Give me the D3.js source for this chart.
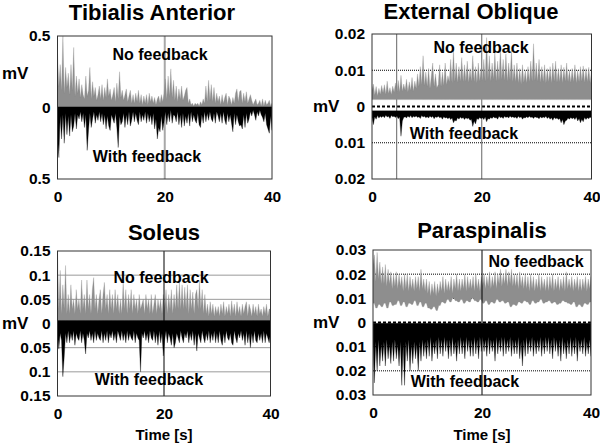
<!DOCTYPE html>
<html><head><meta charset="utf-8">
<script src="https://cdn.jsdelivr.net/npm/d3@7"></script>
<style>
body{margin:0;background:#fff}
svg{display:block}
text{font-family:"Liberation Sans",Arial,Helvetica,sans-serif;font-weight:bold;fill:#000}
</style>
</head><body>
<svg id="c" width="600" height="445"></svg>
<script>
// ---- data (mV), 160 samples over 0..40 s ----
const timeRange = [0, 40];
const timeTicks = [0, 20, 40];
const seriesNames = ["No feedback", "With feedback"];
const muscles = ["Tibialis Anterior", "External Oblique", "Soleus", "Paraspinalis"];

const taTicks = [0.5, 0, -0.5];
const eoTicks = [0.02, 0.01, 0, -0.01, -0.02];
const soTicks = [0.15, 0.1, 0.05, 0, -0.05, -0.1, -0.15];
const psTicks = [0.03, 0.02, 0.01, 0, -0.01, -0.02, -0.03];

const taNoFeedback = [
0.38,0.15,0.30,0.12,0.50,0.10,0.28,0.14, 0.24,0.09,0.30,0.12,0.42,0.08,0.22,0.10,
0.20,0.07,0.16,0.09,0.06,0.22,0.08,0.12, 0.28,0.06,0.18,0.08,0.14,0.05,0.09,0.15,
0.06,0.16,0.05,0.14,0.07,0.20,0.08,0.13, 0.05,0.09,0.14,0.04,0.17,0.06,0.25,0.07,
0.12,0.05,0.09,0.13,0.04,0.08,0.12,0.03, 0.09,0.03,0.10,0.04,0.12,0.03,0.09,0.02,
0.08,0.03,0.09,0.02,0.10,0.04,0.08,0.03, 0.07,0.02,0.06,0.08,0.03,0.09,0.04,0.10,
0.20,0.06,0.22,0.08,0.27,0.07,0.19,0.05, 0.15,0.04,0.13,0.06,0.15,0.05,0.08,0.12,
0.14,0.03,0.06,0.02,0.03,0.01,0.03,0.02, 0.03,0.01,0.04,0.02,0.06,0.03,0.15,0.04,
0.19,0.05,0.16,0.04,0.14,0.03,0.10,0.04, 0.08,0.02,0.09,0.03,0.07,0.10,0.02,0.08,
0.06,0.02,0.07,0.03,0.10,0.13,0.04,0.11, 0.12,0.03,0.10,0.04,0.11,0.03,0.06,0.09,
0.05,0.02,0.04,0.06,0.02,0.03,0.05,0.01, 0.06,0.01,0.05,0.02,0.03,0.05,0.01,0.03];
const taWithFeedback = [
-0.20,-0.35,-0.06,-0.22,-0.05,-0.25,-0.04,-0.19, -0.06,-0.20,-0.05,-0.17,-0.13,-0.04,-0.15,-0.05,
-0.08,-0.03,-0.10,-0.04,-0.14,-0.05,-0.30,-0.16, -0.04,-0.14,-0.08,-0.03,-0.11,-0.05,-0.09,-0.03,
-0.10,-0.04,-0.12,-0.05,-0.15,-0.06,-0.13,-0.16, -0.05,-0.08,-0.11,-0.04,-0.14,-0.28,-0.06,-0.12,
-0.10,-0.04,-0.14,-0.05,-0.12,-0.03,-0.13,-0.09, -0.03,-0.10,-0.04,-0.09,-0.12,-0.03,-0.10,-0.05,
-0.09,-0.03,-0.11,-0.04,-0.10,-0.05,-0.12,-0.04, -0.15,-0.08,-0.22,-0.14,-0.17,-0.06,-0.16,-0.10,
-0.03,-0.12,-0.04,-0.10,-0.02,-0.11,-0.05,-0.06, -0.10,-0.03,-0.12,-0.05,-0.14,-0.04,-0.13,-0.06,
-0.11,-0.04,-0.13,-0.03,-0.10,-0.05,-0.09,-0.11, -0.04,-0.12,-0.14,-0.05,-0.11,-0.03,-0.10,-0.04,
-0.09,-0.03,-0.08,-0.10,-0.04,-0.11,-0.03,-0.06, -0.10,-0.04,-0.11,-0.03,-0.09,-0.12,-0.04,-0.10,
-0.05,-0.11,-0.17,-0.04,-0.12,-0.05,-0.10,-0.13, -0.12,-0.15,-0.05,-0.14,-0.04,-0.11,-0.08,-0.03,
-0.06,-0.02,-0.05,-0.09,-0.03,-0.06,-0.02,-0.05, -0.07,-0.10,-0.04,-0.12,-0.15,-0.18,-0.06,-0.16];

const eoNoFeedback = [
0.0045,0.0062,0.0032,0.0055,0.0030,0.0050,0.0034,0.0058, 0.0038,0.0060,0.0034,0.0070,0.0036,0.0052,0.0033,0.0056,
0.0040,0.0065,0.0037,0.0072,0.0040,0.0086,0.0042,0.0062, 0.0045,0.0075,0.0040,0.0068,0.0045,0.0080,0.0042,0.0070,
0.0050,0.0090,0.0055,0.0110,0.0060,0.0140,0.0058,0.0095, 0.0055,0.0105,0.0050,0.0085,0.0120,0.0055,0.0090,0.0052,
0.0060,0.0115,0.0055,0.0095,0.0058,0.0120,0.0060,0.0085, 0.0068,0.0130,0.0065,0.0155,0.0070,0.0120,0.0066,0.0110,
0.0070,0.0135,0.0068,0.0115,0.0070,0.0125,0.0066,0.0105, 0.0070,0.0140,0.0068,0.0110,0.0065,0.0120,0.0070,0.0105,
0.0072,0.0130,0.0070,0.0190,0.0075,0.0140,0.0070,0.0120, 0.0075,0.0150,0.0070,0.0125,0.0072,0.0160,0.0075,0.0130,
0.0072,0.0145,0.0070,0.0120,0.0074,0.0155,0.0068,0.0115, 0.0068,0.0120,0.0065,0.0105,0.0062,0.0115,0.0066,0.0100,
0.0065,0.0110,0.0068,0.0125,0.0070,0.0173,0.0072,0.0120, 0.0070,0.0130,0.0066,0.0110,0.0068,0.0115,0.0065,0.0105,
0.0068,0.0110,0.0065,0.0120,0.0070,0.0125,0.0066,0.0105, 0.0068,0.0115,0.0065,0.0108,0.0070,0.0120,0.0068,0.0100,
0.0066,0.0105,0.0068,0.0115,0.0065,0.0100,0.0068,0.0110, 0.0070,0.0112,0.0066,0.0105,0.0068,0.0108,0.0065,0.0100];
const eoWithFeedback = [
-0.0030,-0.0050,-0.0028,-0.0035,-0.0025,-0.0032,-0.0027,-0.0030, -0.0026,-0.0031,-0.0024,-0.0029,-0.0027,-0.0033,-0.0025,-0.0028,
-0.0027,-0.0030,-0.0026,-0.0034,-0.0029,-0.0082,-0.0040,-0.0030, -0.0028,-0.0032,-0.0026,-0.0030,-0.0025,-0.0031,-0.0027,-0.0029,
-0.0026,-0.0030,-0.0028,-0.0033,-0.0025,-0.0029,-0.0027,-0.0031, -0.0028,-0.0032,-0.0026,-0.0030,-0.0027,-0.0034,-0.0028,-0.0030,
-0.0027,-0.0031,-0.0029,-0.0035,-0.0028,-0.0032,-0.0030,-0.0034, -0.0030,-0.0036,-0.0032,-0.0045,-0.0038,-0.0040,-0.0031,-0.0035,
-0.0029,-0.0033,-0.0030,-0.0036,-0.0031,-0.0034,-0.0032,-0.0038, -0.0035,-0.0055,-0.0040,-0.0048,-0.0033,-0.0036,-0.0030,-0.0034,
-0.0031,-0.0036,-0.0029,-0.0042,-0.0033,-0.0035,-0.0030,-0.0033, -0.0028,-0.0032,-0.0030,-0.0035,-0.0027,-0.0031,-0.0029,-0.0033,
-0.0027,-0.0030,-0.0028,-0.0032,-0.0026,-0.0030,-0.0028,-0.0031, -0.0029,-0.0033,-0.0027,-0.0031,-0.0028,-0.0035,-0.0030,-0.0032,
-0.0028,-0.0031,-0.0027,-0.0030,-0.0029,-0.0033,-0.0028,-0.0030, -0.0030,-0.0034,-0.0028,-0.0032,-0.0029,-0.0031,-0.0027,-0.0033,
-0.0029,-0.0035,-0.0031,-0.0038,-0.0030,-0.0034,-0.0032,-0.0036, -0.0033,-0.0045,-0.0036,-0.0050,-0.0040,-0.0038,-0.0032,-0.0035,
-0.0030,-0.0034,-0.0031,-0.0036,-0.0029,-0.0040,-0.0033,-0.0045, -0.0035,-0.0042,-0.0030,-0.0036,-0.0031,-0.0034,-0.0029,-0.0033];

const soNoFeedback = [
0.15,0.03,0.11,0.02,0.08,0.03,0.12,0.02, 0.06,0.02,0.08,0.03,0.05,0.02,0.07,0.03,
0.05,0.02,0.09,0.03,0.06,0.02,0.09,0.03, 0.06,0.02,0.07,0.095,0.03,0.06,0.02,0.05,
0.07,0.02,0.06,0.085,0.03,0.06,0.02,0.07, 0.03,0.06,0.02,0.07,0.03,0.06,0.02,0.05,
0.02,0.085,0.03,0.07,0.02,0.06,0.03,0.07, 0.02,0.06,0.03,0.05,0.02,0.06,0.03,0.04,
0.05,0.02,0.06,0.03,0.05,0.02,0.06,0.02, 0.04,0.06,0.02,0.05,0.03,0.05,0.02,0.06,
0.03,0.07,0.02,0.06,0.03,0.07,0.02,0.06, 0.03,0.08,0.03,0.085,0.03,0.08,0.03,0.075,
0.03,0.08,0.02,0.07,0.03,0.065,0.02,0.06, 0.07,0.03,0.088,0.03,0.07,0.02,0.06,0.02,
0.04,0.015,0.045,0.02,0.04,0.015,0.035,0.02, 0.035,0.015,0.04,0.02,0.045,0.015,0.035,0.02,
0.04,0.015,0.047,0.02,0.04,0.015,0.045,0.02, 0.035,0.015,0.04,0.02,0.035,0.045,0.015,0.04,
0.03,0.015,0.04,0.02,0.035,0.015,0.04,0.02, 0.03,0.015,0.035,0.02,0.04,0.015,0.03,0.03];
const soWithFeedback = [
-0.02,-0.053,-0.02,-0.035,-0.11,-0.07,-0.02,-0.04, -0.015,-0.04,-0.02,-0.035,-0.015,-0.045,-0.02,-0.03,
-0.035,-0.015,-0.04,-0.02,-0.035,-0.063,-0.02,-0.03, -0.015,-0.035,-0.02,-0.04,-0.015,-0.035,-0.02,-0.03,
-0.035,-0.015,-0.04,-0.02,-0.035,-0.015,-0.04,-0.02, -0.03,-0.015,-0.035,-0.02,-0.04,-0.015,-0.025,-0.035,
-0.015,-0.035,-0.02,-0.04,-0.015,-0.035,-0.02,-0.03, -0.035,-0.015,-0.04,-0.02,-0.03,-0.035,-0.1,-0.02,
-0.03,-0.015,-0.035,-0.02,-0.04,-0.015,-0.03,-0.035, -0.015,-0.04,-0.02,-0.045,-0.015,-0.04,-0.02,-0.067,
-0.035,-0.015,-0.04,-0.02,-0.03,-0.045,-0.02,-0.05, -0.04,-0.02,-0.03,-0.04,-0.015,-0.03,-0.04,-0.02,
-0.03,-0.015,-0.04,-0.02,-0.035,-0.015,-0.045,-0.02, -0.057,-0.02,-0.03,-0.04,-0.015,-0.03,-0.04,-0.02,
-0.035,-0.015,-0.04,-0.02,-0.035,-0.015,-0.04,-0.02, -0.04,-0.015,-0.035,-0.045,-0.02,-0.04,-0.015,-0.03,
-0.035,-0.02,-0.04,-0.045,-0.015,-0.03,-0.04,-0.02, -0.03,-0.015,-0.035,-0.02,-0.045,-0.015,-0.04,-0.02,
-0.05,-0.02,-0.04,-0.015,-0.035,-0.04,-0.02,-0.035, -0.02,-0.04,-0.015,-0.04,-0.02,-0.03,-0.04,-0.02];

const psNoFeedback = [
0.024,0.028,0.017,0.029,0.018,0.025,0.016,0.023, 0.016,0.024,0.015,0.022,0.016,0.021,0.014,0.020,
0.015,0.021,0.014,0.020,0.015,0.019,0.013,0.020, 0.014,0.020,0.013,0.019,0.014,0.018,0.013,0.019,
0.014,0.019,0.013,0.022,0.014,0.018,0.013,0.018, 0.012,0.017,0.011,0.016,0.012,0.017,0.011,0.016,
0.012,0.017,0.013,0.019,0.012,0.018,0.013,0.017, 0.013,0.019,0.012,0.018,0.014,0.020,0.013,0.018,
0.013,0.018,0.014,0.020,0.013,0.019,0.014,0.018, 0.014,0.019,0.013,0.020,0.014,0.018,0.013,0.019,
0.015,0.020,0.014,0.019,0.015,0.021,0.014,0.019, 0.015,0.021,0.014,0.020,0.016,0.022,0.015,0.020,
0.016,0.022,0.015,0.021,0.016,0.022,0.015,0.020, 0.015,0.020,0.014,0.021,0.015,0.019,0.014,0.020,
0.014,0.019,0.013,0.020,0.014,0.019,0.013,0.018, 0.014,0.020,0.013,0.019,0.014,0.018,0.013,0.019,
0.013,0.019,0.014,0.020,0.013,0.018,0.014,0.019, 0.013,0.018,0.014,0.019,0.013,0.021,0.014,0.018,
0.014,0.019,0.013,0.018,0.014,0.019,0.013,0.018, 0.013,0.018,0.014,0.019,0.013,0.018,0.014,0.019];
// lower edge of the "No feedback" band, one value per 0.5 s
const psNoFeedbackFloor = [
0.008,0.006,0.0075,0.0065,0.008,0.006,0.0085,0.007, 0.0075,0.009,0.007,0.0085,0.0065,0.008,0.0075,0.009,
0.007,0.0085,0.0065,0.008,0.006,0.0055,0.0065,0.005, 0.007,0.0085,0.008,0.0095,0.0085,0.01,0.009,0.0085,
0.0095,0.008,0.009,0.0085,0.01,0.009,0.0085,0.0095, 0.008,0.009,0.0075,0.0085,0.008,0.0095,0.0085,0.009,
0.008,0.0085,0.0065,0.0075,0.007,0.0085,0.008,0.009, 0.0085,0.0075,0.009,0.008,0.0085,0.0095,0.008,0.0085,
0.009,0.008,0.0085,0.0075,0.008,0.009,0.0085,0.008, 0.0075,0.0085,0.0065,0.0075,0.0065,0.008,0.0075,0.0085];
const psWithFeedback = [
-0.009,-0.025,-0.008,-0.020,-0.007,-0.018,-0.009,-0.016, -0.008,-0.018,-0.007,-0.015,-0.009,-0.017,-0.008,-0.016,
-0.007,-0.015,-0.009,-0.018,-0.008,-0.026,-0.009,-0.026, -0.008,-0.016,-0.007,-0.020,-0.009,-0.017,-0.008,-0.015,
-0.009,-0.020,-0.008,-0.016,-0.007,-0.014,-0.008,-0.015, -0.007,-0.014,-0.006,-0.016,-0.008,-0.013,-0.007,-0.015,
-0.006,-0.013,-0.007,-0.014,-0.006,-0.012,-0.007,-0.015, -0.007,-0.014,-0.006,-0.013,-0.008,-0.016,-0.007,-0.013,
-0.006,-0.013,-0.007,-0.015,-0.006,-0.012,-0.007,-0.014, -0.007,-0.014,-0.006,-0.013,-0.007,-0.015,-0.006,-0.012,
-0.006,-0.012,-0.007,-0.014,-0.006,-0.013,-0.007,-0.012, -0.007,-0.016,-0.006,-0.013,-0.007,-0.012,-0.006,-0.014,
-0.006,-0.013,-0.007,-0.012,-0.006,-0.014,-0.007,-0.013, -0.007,-0.013,-0.006,-0.015,-0.008,-0.018,-0.007,-0.014,
-0.006,-0.013,-0.007,-0.012,-0.006,-0.014,-0.007,-0.013, -0.007,-0.012,-0.006,-0.014,-0.007,-0.013,-0.006,-0.012,
-0.006,-0.013,-0.007,-0.015,-0.006,-0.012,-0.007,-0.014, -0.007,-0.016,-0.006,-0.013,-0.008,-0.015,-0.007,-0.013,
-0.006,-0.014,-0.007,-0.013,-0.006,-0.016,-0.007,-0.012, -0.007,-0.013,-0.006,-0.014,-0.008,-0.013,-0.007,-0.014];

// ---- layout ----
const panels = [
  {title: muscles[0], tx: 152, ty: 20, l: 57.5, r: 272, t: 36, b: 179, ymax: 0.5, ticks: taTicks,
   fmt: d3.format(".1f"), gray: taNoFeedback, grayFloor: 0, black: taWithFeedback, blackTop: 0,
   mv: [2, 73], nf: [160, 60], wf: [147, 161.5], timeLabel: false,
   vlines: [{v: 20, c: "#a8a8a8", w: 2, top: false}], hlines: [{v: 0, c: "#000", w: 1.3, dash: null}]},
  {title: muscles[1], tx: 471, ty: 19, l: 372, r: 591.5, t: 34, b: 179, ymax: 0.02, ticks: eoTicks,
   fmt: d3.format(".2f"), gray: eoNoFeedback, grayFloor: 0.0019, black: eoWithFeedback, blackTop: -0.0012,
   mv: [313, 106.5], nf: [481, 53], wf: [464, 139], timeLabel: false,
   vlines: [{v: 4.5, c: "#666", w: 1, top: false}, {v: 20, c: "#666", w: 1, top: false}],
   hlines: [{v: 0.01, c: "#000", w: 1, dash: "1,1"}, {v: -0.01, c: "#000", w: 1, dash: "1,1"}, {v: 0, c: "#000", w: 2, dash: "3,2"}]},
  {title: muscles[2], tx: 164, ty: 239.5, l: 57.5, r: 270.5, t: 251, b: 396, ymax: 0.15, ticks: soTicks,
   fmt: d => d3.format(".2~f")(d), gray: soNoFeedback, grayFloor: 0, black: soWithFeedback, blackTop: 0.006,
   mv: [2, 323.5], nf: [161, 283], wf: [149, 385], timeLabel: true,
   vlines: [{v: 20, c: "#000", w: 1, top: true}],
   hlines: [0.1, 0.05, -0.05, -0.1].map(v => ({v, c: "#9a9a9a", w: 1, dash: null}))},
  {title: muscles[3], tx: 482, ty: 238, l: 373, r: 591, t: 250, b: 395, ymax: 0.03, ticks: psTicks,
   fmt: d3.format(".2f"), gray: psNoFeedback, grayFloor: psNoFeedbackFloor, black: psWithFeedback, blackTop: -0.0003,
   mv: [313, 322.5], nf: [536, 267], wf: [465, 387], timeLabel: true,
   vlines: [{v: 20, c: "#000", w: 1, top: true}],
   hlines: [{v: 0.02, c: "#000", w: 1, dash: "1,1"}, {v: 0.01, c: "#000", w: 1, dash: "1,1"},
            {v: -0.01, c: "#000", w: 1, dash: "1,1"}, {v: -0.02, c: "#000", w: 1, dash: "1,1"},
            {v: 0, c: "#000", w: 2, dash: "3,2"}]}
];

const svg = d3.select("#c");
const GRAY = "#8e8e8e";

panels.forEach((p, pi) => {
  const x = d3.scaleLinear().domain(timeRange).range([p.l, p.r]);
  const y = d3.scaleLinear().domain([-p.ymax, p.ymax]).range([p.b, p.t]);
  const g = svg.append("g");
  const clipId = "clip" + pi;
  svg.append("clipPath").attr("id", clipId).append("rect")
     .attr("x", p.l).attr("y", p.t).attr("width", p.r - p.l).attr("height", p.b - p.t);

  // background grid
  const grid = g.append("g").attr("clip-path", `url(#${clipId})`);
  p.hlines.forEach(h => grid.append("line")
     .attr("x1", p.l).attr("x2", p.r).attr("y1", y(h.v)).attr("y2", y(h.v))
     .attr("stroke", h.c).attr("stroke-width", h.w).attr("stroke-dasharray", h.dash));
  p.vlines.filter(v => !v.top).forEach(v => grid.append("line")
     .attr("x1", x(v.v)).attr("x2", x(v.v)).attr("y1", p.t).attr("y2", p.b)
     .attr("stroke", v.c).attr("stroke-width", v.w));

  // signals
  const n = p.gray.length;
  const tOf = i => timeRange[0] + i * (timeRange[1] - timeRange[0]) / (n - 1);
  const floorOf = i => Array.isArray(p.grayFloor) ? p.grayFloor[Math.min(p.grayFloor.length - 1, Math.floor(i / n * p.grayFloor.length))] : p.grayFloor;
  const data = g.append("g").attr("clip-path", `url(#${clipId})`);
  data.append("path").datum(p.gray)
     .attr("d", d3.area().x((d, i) => x(tOf(i))).y0((d, i) => y(floorOf(i))).y1(d => y(d)))
     .attr("fill", GRAY).attr("stroke", GRAY).attr("stroke-width", 0.3);
  data.append("path").datum(p.black)
     .attr("d", d3.area().x((d, i) => x(tOf(i))).y0(y(p.blackTop)).y1(d => y(d)))
     .attr("fill", "#000").attr("stroke", "#000").attr("stroke-width", 0.3);

  // foreground lines
  if (pi === 0) data.append("line")
     .attr("x1", p.l).attr("x2", p.r).attr("y1", y(0)).attr("y2", y(0))
     .attr("stroke", "#000").attr("stroke-width", 1.3);
  p.vlines.filter(v => v.top).forEach(v => data.append("line")
     .attr("x1", x(v.v)).attr("x2", x(v.v)).attr("y1", p.t).attr("y2", p.b)
     .attr("stroke", v.c).attr("stroke-width", v.w));

  // frame
  g.append("rect").attr("x", p.l).attr("y", p.t).attr("width", p.r - p.l).attr("height", p.b - p.t)
   .attr("fill", "none").attr("stroke", "#333").attr("stroke-width", 1);

  // y tick labels (absolute values)
  const yAxis = g.append("g").attr("transform", `translate(${p.l},0)`)
    .call(d3.axisLeft(y).tickValues(p.ticks).tickSize(0).tickPadding(7)
      .tickFormat(d => d === 0 ? "0" : p.fmt(Math.abs(d)).replace(/^(\d\.\d*?)0+$/, "$1")));
  yAxis.select(".domain").remove();
  yAxis.selectAll("text").style("font-size", "15.5px").style("font-family", "'Liberation Sans',Arial,sans-serif").style("font-weight", "bold").attr("fill", "#000");

  // x tick labels
  const xAxis = g.append("g").attr("transform", `translate(0,${p.b})`)
    .call(d3.axisBottom(x).tickValues(timeTicks).tickSize(0).tickPadding(12).tickFormat(d3.format("d")));
  xAxis.select(".domain").remove();
  xAxis.selectAll("text").style("font-size", "15.5px").style("font-family", "'Liberation Sans',Arial,sans-serif").style("font-weight", "bold").attr("fill", "#000");

  // titles and labels
  g.append("text").attr("x", p.tx).attr("y", p.ty).attr("text-anchor", "middle")
   .style("font-size", "22px").text(p.title);
  g.append("text").attr("x", p.mv[0]).attr("y", p.mv[1]).attr("dy", "0.35em")
   .style("font-size", "17px").text("mV");
  g.append("text").attr("x", p.nf[0]).attr("y", p.nf[1]).attr("text-anchor", "middle")
   .style("font-size", "16px").text(seriesNames[0]);
  g.append("text").attr("x", p.wf[0]).attr("y", p.wf[1]).attr("text-anchor", "middle")
   .style("font-size", "16px").text(seriesNames[1]);
  if (p.timeLabel) {
    g.append("text").attr("x", (p.l + p.r) / 2).attr("y", 440).attr("text-anchor", "middle")
     .style("font-size", "15px").text("Time [s]");
  }
});
</script>
</body></html>
